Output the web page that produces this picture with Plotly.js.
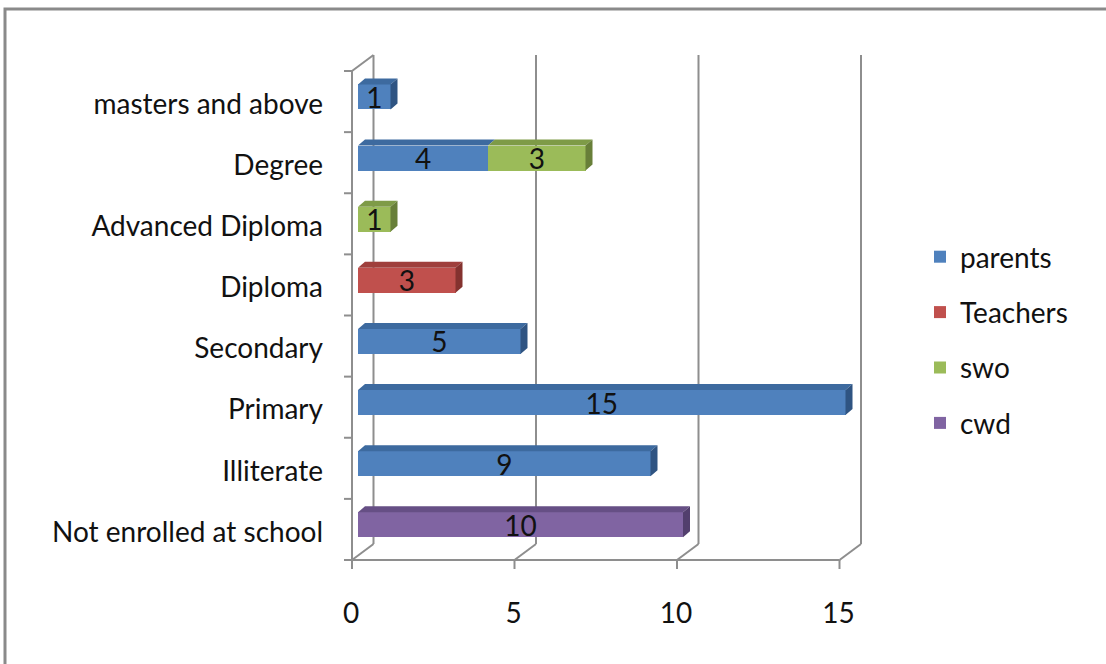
<!DOCTYPE html>
<html><head><meta charset="utf-8">
<script src="https://cdn.plot.ly/plotly-3.0.1.min.js"></script>
<style>html,body{margin:0;padding:0;background:#fff}#chart{width:1106px;height:664px}</style>
</head><body><div id="chart"></div>
<script>
// ---- data ----
const categories = ['Not enrolled at school','Illiterate','Primary','Secondary','Diploma','Advanced Diploma','Degree','masters and above'];
const seriesNames = ['parents','Teachers','swo','cwd'];
const parents  = [null, 9, 15, 5, null, null, 4, 1];
const teachers = [null, null, null, null, 3, null, null, null];
const swo      = [null, null, null, null, null, 1, 3, null];
const cwd      = [10, null, null, null, null, null, null, null];
const xTickVals = [0, 5, 10, 15];

// ---- style ----
const frontColors = ['#4F81BD', '#C0504D', '#9BBB59', '#8064A2'];
const topColors   = ['#3D6A9F', '#9F3F3C', '#7E9B47', '#664F85'];
const sideColors  = ['#2F5482', '#84322F', '#687F39', '#523F6D'];
const FONT = 'Lato, "Open Sans", sans-serif';
const FS = 28;

// pixel geometry helpers
const W = 1106, H = 664;
const L = 340, R = 862, T = 53, B = 574;      // plot area in pixels
const PX = 32.5, PY = 61.125;                  // px per data unit
const X0PIX = 358, YBOTPIX = 555.4;            // bar plane: x=0 and y=-0.5 pixel positions
const xr = [-(X0PIX - L) / PX, (R - X0PIX) / PX];
const yr = [-0.5 - (B - YBOTPIX) / PY, -0.5 + (YBOTPIX - T) / PY];
const dxF = -6 / PX, dyF = -4.6 / PY;          // front plane offset
const dxB = 15.5 / PX, dyB = 11.4 / PY;        // back plane offset
const dDx = 7 / PX, dDy = 6 / PY;              // bar depth
const barW = 0.41, hw = barW / 2;

const series = [parents, teachers, swo, cwd];
const yIdx = categories.map((c, i) => i);

const traces = [];
series.forEach((vals, s) => {
  traces.push({
    type: 'bar', orientation: 'h', name: seriesNames[s],
    y: yIdx, x: vals, width: barW,
    marker: {color: frontColors[s], line: {width: 0}},
    texttemplate: '%{x}', textposition: 'inside', insidetextanchor: 'middle',
    textangle: 0, constraintext: 'none',
    textfont: {family: FONT, size: FS, color: '#111'},
    legendgroup: 'g' + s, hoverinfo: 'skip'
  });
});

// 3D faces computed from the data
const starts = series.map(() => []);
const ends = series.map(() => []);
const lastSeries = [];
yIdx.forEach(i => {
  let cum = 0; let last = -1;
  series.forEach((vals, s) => {
    const v = vals[i];
    starts[s][i] = cum;
    if (v != null) { cum += v; last = s; }
    ends[s][i] = cum;
  });
  lastSeries[i] = last;
});

series.forEach((vals, s) => {
  const tx = [], ty = [];
  yIdx.forEach(i => {
    if (vals[i] == null) return;
    const a = starts[s][i], b = ends[s][i], yt = i + hw;
    tx.push(a, b, b + dDx, a + dDx, a, null);
    ty.push(yt, yt, yt + dDy, yt + dDy, yt, null);
  });
  traces.push({type: 'scatter', mode: 'lines', x: tx, y: ty, fill: 'toself',
    fillcolor: topColors[s], line: {width: 0}, showlegend: false, hoverinfo: 'skip'});
});
series.forEach((vals, s) => {
  const sx = [], sy = [];
  yIdx.forEach(i => {
    if (lastSeries[i] !== s) return;
    const e = ends[s][i];
    sx.push(e, e, e + dDx, e + dDx, e, null);
    sy.push(i - hw, i + hw, i + hw + dDy, i - hw + dDy, i - hw, null);
  });
  traces.push({type: 'scatter', mode: 'lines', x: sx, y: sy, fill: 'toself',
    fillcolor: sideColors[s], line: {width: 0}, showlegend: false, hoverinfo: 'skip'});
});

// walls, floor, gridlines
const gline = {color: '#8E8E8E', width: 2};
const shapes = [];
const yLo = -0.5, yHi = categories.length - 0.5;
const xMax = xTickVals[xTickVals.length - 1];
function seg(x0, y0, x1, y1) {
  shapes.push({type: 'line', xref: 'x', yref: 'y', x0, y0, x1, y1, line: gline, layer: 'below'});
}
// front y axis + ticks
seg(dxF, yLo + dyF, dxF, yHi + dyF);
for (let k = 0; k <= categories.length; k++) {
  seg(dxF - 8 / PX, yLo + k + dyF, dxF, yLo + k + dyF);
}
// front x axis + ticks + floor diagonals + back gridlines
seg(dxF, yLo + dyF, xMax + dxF, yLo + dyF);
xTickVals.forEach(t => {
  seg(t + dxF, yLo + dyF, t + dxF, yLo + dyF - 9 / PY);
  seg(t + dxF, yLo + dyF, t + dxB, yLo + dyB);
  seg(t + dxB, yLo + dyB, t + dxB, yHi + dyB);
});
// left wall top edge
seg(dxF, yHi + dyF, dxB, yHi + dyB);

// outer frame
const px2x = p => (p - L) / (R - L);
const px2y = p => (B - p) / (B - T);
shapes.push({type: 'rect', xref: 'paper', yref: 'paper',
  x0: px2x(5), y0: px2y(9), x1: px2x(1130), y1: px2y(700),
  line: {color: '#8A8A8A', width: 3}, fillcolor: 'rgba(0,0,0,0)', layer: 'above'});

const layout = {
  width: W, height: H,
  margin: {l: L, r: W - R, t: T, b: H - B, pad: 0},
  paper_bgcolor: '#fff', plot_bgcolor: 'rgba(0,0,0,0)',
  barmode: 'stack', showlegend: true,
  font: {family: FONT, size: FS, color: '#111'},
  xaxis: {range: xr, tickvals: xTickVals, showgrid: false, zeroline: false, showline: false,
    ticks: '', ticklabelshift: -7, ticklabelstandoff: 20, fixedrange: true,
    tickfont: {family: FONT, size: FS, color: '#111'}},
  yaxis: {range: yr, tickvals: yIdx, ticktext: categories, showgrid: false, zeroline: false,
    showline: false, ticks: '', ticklabelshift: 7, ticklabelstandoff: 16, fixedrange: true,
    tickfont: {family: FONT, size: FS, color: '#111'}},
  legend: {x: px2x(920), xanchor: 'left', y: px2y(232), yanchor: 'top',
    traceorder: 'grouped', tracegroupgap: 16, font: {family: FONT, size: FS, color: '#111'},
    bgcolor: 'rgba(0,0,0,0)'},
  shapes: shapes
};

Plotly.newPlot('chart', traces, layout, {displayModeBar: false, staticPlot: true});
</script>
</body></html>
